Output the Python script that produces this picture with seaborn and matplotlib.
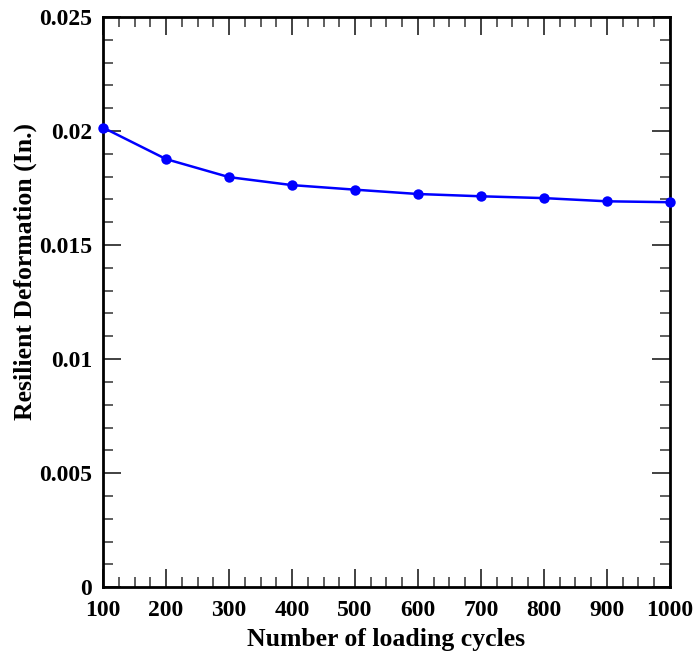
import matplotlib
matplotlib.use("Agg")
import matplotlib.pyplot as plt
import seaborn as sns
import pandas as pd
from matplotlib.ticker import MultipleLocator, FixedLocator

cycles = [100, 200, 300, 400, 500, 600, 700, 800, 900, 1000]
deformation = [0.02015, 0.01877, 0.01798, 0.01763, 0.01743, 0.01724, 0.01714, 0.01706, 0.01692, 0.01688]
x_ticks = [100, 200, 300, 400, 500, 600, 700, 800, 900, 1000]
y_ticks = [0, 0.005, 0.01, 0.015, 0.02, 0.025]
y_labels = ["0", "0.005", "0.01", "0.015", "0.02", "0.025"]

sns.set_theme(style="white")
plt.rcParams["font.family"] = ["Liberation Serif", "DejaVu Serif"]
plt.rcParams["font.weight"] = "bold"
plt.rcParams["text.color"] = "black"
plt.rcParams["axes.labelcolor"] = "black"
plt.rcParams["xtick.color"] = "black"
plt.rcParams["ytick.color"] = "black"

df = pd.DataFrame({"cycles": cycles, "deformation": deformation})

fig = plt.figure(figsize=(6.97, 6.56), dpi=100)
ax = fig.add_axes([0.148, 0.105, 0.813, 0.869])

sns.lineplot(data=df, x="cycles", y="deformation", ax=ax, color="#0000ff",
             linewidth=1.8, marker="o", markersize=7.5, markeredgewidth=0,
             markerfacecolor="#0000ff", clip_on=False, zorder=5)

ax.set_xlim(100, 1000)
ax.set_ylim(0, 0.025)
ax.xaxis.set_major_locator(FixedLocator(x_ticks))
ax.xaxis.set_minor_locator(MultipleLocator(25))
ax.set_yticks(y_ticks)
ax.set_yticklabels(y_labels)
ax.yaxis.set_minor_locator(MultipleLocator(0.001))

for s in ax.spines.values():
    s.set_visible(True)
    s.set_color("black")
    s.set_linewidth(2)

ax.tick_params(axis="both", which="both", direction="in", top=True, right=True,
               bottom=True, left=True, color="#333333", labelcolor="black")
ax.tick_params(axis="both", which="major", length=13, width=1.3, labelsize=17)
ax.tick_params(axis="x", which="major", pad=9)
ax.tick_params(axis="y", which="major", pad=8)
ax.tick_params(axis="both", which="minor", length=7, width=1.1)
for lab in ax.get_xticklabels() + ax.get_yticklabels():
    lab.set_fontweight("bold")

ax.set_xlabel("Number of loading cycles", fontsize=18.5, fontweight="bold", labelpad=5, color="black")
ax.set_ylabel("Resilient Deformation (In.)", fontsize=18.5, fontweight="bold", color="black")
ax.yaxis.set_label_coords(-0.116, 0.553)
ax.grid(False)

fig.savefig("out.png", dpi=100)
